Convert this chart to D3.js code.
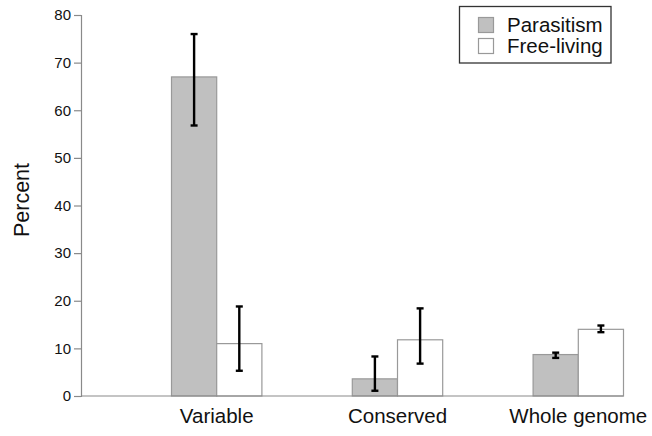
<!DOCTYPE html>
<html>
<head>
<meta charset="utf-8">
<script src="https://cdn.jsdelivr.net/npm/d3@7"></script>
<style>
  html, body { margin: 0; padding: 0; background: #fff; }
  svg { display: block; font-family: "Liberation Sans", Arial, sans-serif; }
</style>
</head>
<body>
<svg id="chart" width="652" height="436"></svg>
<script>
// Categories and series
const categories = ["Variable", "Conserved", "Whole genome"];
const seriesNames = ["Parasitism", "Free-living"];
const parasitism = [67, 3.6, 8.7];
const freeLiving = [11, 11.8, 14.0];
// Error bar extents (low, high) per series
const parasitismLow = [56.8, 1.1, 8.0];
const parasitismHigh = [76, 8.3, 9.1];
const freeLivingLow = [5.3, 6.8, 13.4];
const freeLivingHigh = [18.8, 18.4, 14.8];
const yTicks = [0, 10, 20, 30, 40, 50, 60, 70, 80];

const colors = { "Parasitism": "#c0c0c0", "Free-living": "#ffffff" };

const rows = categories.map((c, i) => ({
  category: c,
  bars: [
    { series: "Parasitism", value: parasitism[i], low: parasitismLow[i], high: parasitismHigh[i] },
    { series: "Free-living", value: freeLiving[i], low: freeLivingLow[i], high: freeLivingHigh[i] }
  ]
}));

const svg = d3.select("#chart");
const axisX = 81;

const y = d3.scaleLinear().domain([0, 80]).range([396, 15]);
const x0 = d3.scaleBand().domain(categories).range([126.3, 668.7])
  .paddingInner(0.5).paddingOuter(0.25);
const x1 = d3.scaleBand().domain(seriesNames).range([0, x0.bandwidth()]);

// Y axis
const yAxis = d3.axisLeft(y).tickValues(yTicks).tickSize(7).tickPadding(3);
const gy = svg.append("g").attr("transform", `translate(${axisX},0)`).call(yAxis);
gy.select(".domain").attr("stroke", "#8a8a8a").attr("stroke-width", 1.2);
gy.selectAll(".tick line").attr("stroke", "#8a8a8a").attr("stroke-width", 1.2);
gy.selectAll(".tick text")
  .attr("font-size", 15).attr("fill", "#111")
  .attr("font-family", "Liberation Sans, Arial, sans-serif");

// Bars
const groups = svg.append("g").selectAll("g").data(rows).join("g")
  .attr("transform", d => `translate(${x0(d.category)},0)`);

groups.selectAll("rect").data(d => d.bars).join("rect")
  .attr("x", d => x1(d.series))
  .attr("y", d => y(d.value))
  .attr("width", x1.bandwidth())
  .attr("height", d => y(0) - y(d.value))
  .attr("fill", d => colors[d.series])
  .attr("stroke", "#999")
  .attr("stroke-width", 1.2);

// Error bars
const capW = 7;
const eb = groups.selectAll("g.err").data(d => d.bars).join("g").attr("class", "err")
  .attr("transform", d => `translate(${x1(d.series) + x1.bandwidth() / 2},0)`);
eb.append("line")
  .attr("x1", 0).attr("x2", 0)
  .attr("y1", d => y(d.high)).attr("y2", d => y(d.low))
  .attr("stroke", "#000").attr("stroke-width", 2.4);
eb.append("line")
  .attr("x1", -capW / 2).attr("x2", capW / 2)
  .attr("y1", d => y(d.high)).attr("y2", d => y(d.high))
  .attr("stroke", "#000").attr("stroke-width", 2.4);
eb.append("line")
  .attr("x1", -capW / 2).attr("x2", capW / 2)
  .attr("y1", d => y(d.low)).attr("y2", d => y(d.low))
  .attr("stroke", "#000").attr("stroke-width", 2.4);

// Baseline
const lastCat = categories[categories.length - 1];
svg.append("line")
  .attr("x1", axisX).attr("x2", x0(lastCat) + x0.bandwidth())
  .attr("y1", y(0)).attr("y2", y(0))
  .attr("stroke", "#8a8a8a").attr("stroke-width", 1.2);

// Category labels
svg.append("g").selectAll("text").data(categories).join("text")
  .attr("x", d => x0(d) + x0.bandwidth() / 2)
  .attr("y", 423)
  .attr("text-anchor", "middle")
  .attr("font-size", 20.5)
  .attr("fill", "#111")
  .text(d => d);

// Y axis title
svg.append("text")
  .attr("transform", "translate(29,200) rotate(-90)")
  .attr("text-anchor", "middle")
  .attr("font-size", 21.5)
  .attr("fill", "#111")
  .text("Percent");

// Legend
const legend = svg.append("g");
legend.append("rect")
  .attr("x", 459.5).attr("y", 6.5).attr("width", 151.5).attr("height", 56.5)
  .attr("fill", "#fff").attr("stroke", "#333").attr("stroke-width", 1.3);
const li = legend.selectAll("g.item").data(seriesNames).join("g").attr("class", "item")
  .attr("transform", (d, i) => `translate(0,${i * 21})`);
li.append("rect")
  .attr("x", 478.5).attr("y", 17.5).attr("width", 15).attr("height", 15)
  .attr("fill", d => colors[d]).attr("stroke", "#999").attr("stroke-width", 1.2);
li.append("text")
  .attr("x", 507).attr("y", 32)
  .attr("font-size", 20.5).attr("fill", "#111")
  .text(d => d);
</script>
</body>
</html>
